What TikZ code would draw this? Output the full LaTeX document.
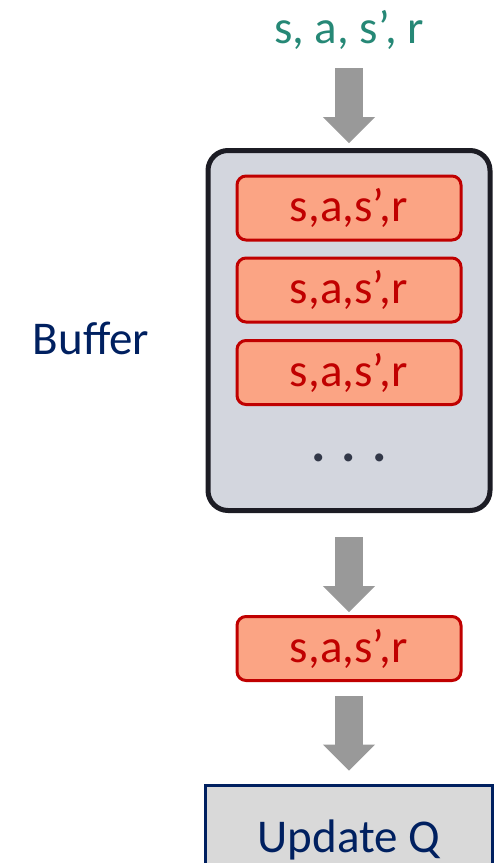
\documentclass[tikz,border=0pt]{standalone}
\usepackage{fontspec}
\setmainfont{Carlito}
\usetikzlibrary{arrows.meta}

\definecolor{qteal}{RGB}{38,136,118}
\definecolor{qnavy}{RGB}{0,32,96}
\definecolor{qred}{RGB}{192,0,0}
\definecolor{qsalmon}{RGB}{251,164,132}
\definecolor{qgray}{RGB}{153,153,153}
\definecolor{qbuffer}{RGB}{211,214,222}
\definecolor{qedge}{RGB}{28,28,36}
\definecolor{qdots}{RGB}{50,56,72}
\definecolor{qupdate}{RGB}{217,217,217}

\begin{document}
\begin{tikzpicture}[x=1pt,y=-1pt,
    big/.style={font=\fontsize{47}{56}\selectfont},
    trans/.style={big,draw=qred,fill=qsalmon,text=qred,line width=3pt,
        rounded corners=9pt,minimum width=224pt,minimum height=64pt,inner sep=0pt},
    blockarrow/.style={qgray,line width=28pt,
        -{Triangle[width=52pt,length=26pt,line width=1pt]}}]
        \clip (0,0) rectangle (494,863);

        % incoming transition
        \node[big,text=qteal] (in) at (349,30) {s, a, s’, r};

        % the replay buffer and what it holds
        \node[draw=qedge,fill=qbuffer,line width=5pt,rounded corners=20pt,
            minimum width=282pt,minimum height=360pt] (buffer) at (349,330.5) {};
        \foreach \n/\y in {1/208,2/290,3/372.5}
                \node[trans] (t\n) at (349,\y) {s,a,s’,r};
        \node[font=\fontsize{54}{60}\bfseries,text=qdots] (dots) at (349,458) {. . .};
        \node[big,text=qnavy] (label) at (91,338) {Buffer};

        % sampled transition and the update
        \node[trans] (sample) at (349,648.5) {s,a,s’,r};
        \node[big,draw=qnavy,fill=qupdate,text=qnavy,line width=3pt,
            minimum width=287pt,minimum height=110pt] (update) at (349,840) {Update Q};

        % block arrows
        \draw[blockarrow,shorten <=38pt,shorten >=5pt] (in.center) -- (buffer.north);
        \draw[blockarrow,shorten <=24pt,shorten >=3pt] (buffer.south) -- (sample.north);
        \draw[blockarrow,shorten <=14pt,shorten >=13pt] (sample.south) -- (update.north);
\end{tikzpicture}
\end{document}
